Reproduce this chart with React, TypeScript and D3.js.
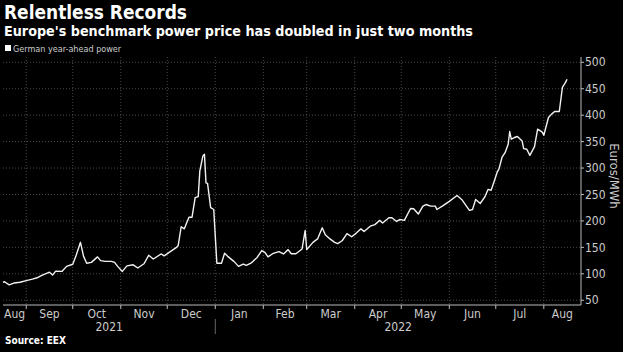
import { useEffect, useRef } from 'react'
import * as d3 from 'd3'

// German year-ahead power, Euros/MWh
const dates = [
  '2021-08-17', '2021-08-18', '2021-08-21', '2021-08-24', '2021-08-28', '2021-09-01', '2021-09-05', '2021-09-08',
  '2021-09-11', '2021-09-16', '2021-09-18', '2021-09-20', '2021-09-24', '2021-09-27', '2021-10-01', '2021-10-03',
  '2021-10-06', '2021-10-08', '2021-10-10', '2021-10-13', '2021-10-17', '2021-10-19', '2021-10-22', '2021-10-26',
  '2021-10-28', '2021-10-30', '2021-11-02', '2021-11-05', '2021-11-09', '2021-11-12', '2021-11-16', '2021-11-19',
  '2021-11-22', '2021-11-27', '2021-11-29', '2021-12-07', '2021-12-08', '2021-12-10', '2021-12-12', '2021-12-15',
  '2021-12-17', '2021-12-19', '2021-12-21', '2021-12-22', '2021-12-24', '2021-12-25', '2021-12-26', '2021-12-27',
  '2021-12-29', '2021-12-31', '2022-01-02', '2022-01-05', '2022-01-07', '2022-01-09', '2022-01-13', '2022-01-16',
  '2022-01-19', '2022-01-21', '2022-01-24', '2022-01-28', '2022-01-31', '2022-02-02', '2022-02-04', '2022-02-07',
  '2022-02-11', '2022-02-13', '2022-02-14', '2022-02-17', '2022-02-19', '2022-02-22', '2022-02-26', '2022-02-28',
  '2022-03-01', '2022-03-05', '2022-03-08', '2022-03-11', '2022-03-13', '2022-03-16', '2022-03-19', '2022-03-21',
  '2022-03-24', '2022-03-27', '2022-03-30', '2022-04-02', '2022-04-05', '2022-04-07', '2022-04-11', '2022-04-14',
  '2022-04-17', '2022-04-19', '2022-04-23', '2022-04-25', '2022-04-28', '2022-04-30', '2022-05-03', '2022-05-07',
  '2022-05-09', '2022-05-12', '2022-05-15', '2022-05-17', '2022-05-20', '2022-05-23', '2022-05-24', '2022-05-28',
  '2022-06-01', '2022-06-06', '2022-06-09', '2022-06-14', '2022-06-16', '2022-06-18', '2022-06-21', '2022-06-24',
  '2022-06-26', '2022-06-28', '2022-06-30', '2022-07-02', '2022-07-03', '2022-07-05', '2022-07-07', '2022-07-09',
  '2022-07-10', '2022-07-11', '2022-07-13', '2022-07-15', '2022-07-18', '2022-07-19', '2022-07-21', '2022-07-23',
  '2022-07-26', '2022-07-28', '2022-07-31', '2022-08-01', '2022-08-04', '2022-08-06', '2022-08-08', '2022-08-11',
  '2022-08-13', '2022-08-15', '2022-08-16'
]

const prices = [
  84, 85, 79, 82.5, 84, 87, 90, 92.5,
  97, 103, 97.6, 105, 104.5, 114, 118, 133,
  159.5, 133, 120, 121.6, 132, 125, 123.5, 123.5,
  121.6, 114, 104.5, 115, 117, 111, 119, 135,
  128, 137.5, 134, 150, 153, 189, 185, 207,
  207, 244, 246, 294, 323, 326, 272, 271,
  225, 221.6, 120, 120, 139, 133, 123.5, 114,
  118.5, 116, 120, 131, 144, 140.5, 132, 138,
  142, 139, 137.5, 145.7, 138, 138, 147, 182,
  145.7, 159.5, 166, 187, 174, 166, 159.5, 157,
  163, 176, 170, 177, 185, 180, 190, 193,
  201, 196, 206, 206, 199, 202.6, 201, 223.5,
  223, 213, 228, 231, 228, 228, 221.6, 229,
  237, 248, 240.6, 220, 221.6, 240.6, 233, 245.7,
  259.6, 258, 275, 293, 297.5, 320, 329, 345,
  369, 354.5, 357.7, 359.6, 351, 336.8, 335.5, 324,
  340.6, 373.5, 368, 362, 395.6, 402, 407, 407,
  452.6, 462, 468
]

const yTicks = [50, 100, 150, 200, 250, 300, 350, 400, 450, 500]
const monthNames = ['Aug', 'Sep', 'Oct', 'Nov', 'Dec', 'Jan', 'Feb', 'Mar', 'Apr', 'May', 'Jun', 'Jul', 'Aug']
const years = ['2021', '2022']

const WIDTH = 623
const HEIGHT = 352
const FONT = '"DejaVu Sans Condensed", "Liberation Sans Narrow", "DejaVu Sans", sans-serif'

export default function App() {
  const svgRef = useRef<SVGSVGElement>(null)

  useEffect(() => {
    if (!svgRef.current) return
    const svg = d3.select(svgRef.current)
    svg.selectAll('*').remove()

    const parse = d3.timeParse('%Y-%m-%d')
    const data = dates.map((d, i) => ({ date: parse(d) as Date, value: prices[i] }))

    const left = 3
    const right = 581
    const top = 57
    const bottom = 305

    const start = new Date(2021, 7, 17)
    const end = new Date(2022, 7, 25)
    const x = d3.scaleTime().domain([start, end]).range([left, right])
    const y = d3.scaleLinear().domain([41, 510]).range([bottom, top])

    svg.append('rect').attr('width', WIDTH).attr('height', HEIGHT).attr('fill', '#000')

    // titles (squeezed to the reference's condensed face)
    svg.append('text')
      .attr('x', 4).attr('y', 19)
      .attr('textLength', 183).attr('lengthAdjust', 'spacingAndGlyphs')
      .style('font-family', FONT).style('font-size', '20px').style('font-weight', 'bold')
      .attr('fill', '#fff')
      .text('Relentless Records')
    svg.append('text')
      .attr('x', 4).attr('y', 36)
      .attr('textLength', 469).attr('lengthAdjust', 'spacingAndGlyphs')
      .style('font-family', FONT).style('font-size', '14.5px').style('font-weight', 'bold')
      .attr('fill', '#fff')
      .text("Europe's benchmark power price has doubled in just two months")

    // legend
    svg.append('rect').attr('x', 5).attr('y', 45).attr('width', 6).attr('height', 6).attr('fill', '#fff')
    svg.append('text')
      .attr('x', 13).attr('y', 51.5)
      .style('font-family', FONT).style('font-size', '9px')
      .attr('fill', '#ccc')
      .text('German year-ahead power')

    // grid
    const monthStarts = d3.timeMonth.range(d3.timeMonth.ceil(start), end)
    svg.append('g')
      .selectAll('line')
      .data(yTicks)
      .join('line')
      .attr('x1', left).attr('x2', right)
      .attr('y1', d => y(d)).attr('y2', d => y(d))
      .attr('stroke', '#4a4a4a').attr('stroke-dasharray', '1,2')
    svg.append('g')
      .selectAll('line')
      .data(monthStarts)
      .join('line')
      .attr('x1', d => x(d)).attr('x2', d => x(d))
      .attr('y1', top).attr('y2', bottom)
      .attr('stroke', '#4a4a4a').attr('stroke-dasharray', '1,2')

    // right axis
    svg.append('line')
      .attr('x1', right).attr('x2', right).attr('y1', top).attr('y2', bottom)
      .attr('stroke', '#bbb')
    const yAxis = svg.append('g')
    yAxis.selectAll('line')
      .data(yTicks)
      .join('line')
      .attr('x1', right).attr('x2', right + 3)
      .attr('y1', d => y(d)).attr('y2', d => y(d))
      .attr('stroke', '#bbb')
    yAxis.selectAll('text')
      .data(yTicks)
      .join('text')
      .attr('x', right + 4).attr('y', d => y(d))
      .attr('dy', '0.35em')
      .style('font-family', FONT).style('font-size', '12px')
      .attr('fill', '#ccc')
      .text(d => d)
    svg.append('text')
      .attr('transform', `translate(610, ${(top + bottom) / 2 - 5}) rotate(90)`)
      .attr('text-anchor', 'middle')
      .style('font-family', FONT).style('font-size', '13px')
      .attr('fill', '#ccc')
      .text('Euros/MWh')

    // bottom axis
    svg.append('line')
      .attr('x1', left).attr('x2', right).attr('y1', bottom).attr('y2', bottom)
      .attr('stroke', '#bbb')
    svg.append('g')
      .selectAll('line')
      .data(monthStarts)
      .join('line')
      .attr('x1', d => x(d)).attr('x2', d => x(d))
      .attr('y1', bottom).attr('y2', bottom + 4)
      .attr('stroke', '#bbb')

    const months = d3.timeMonth.range(d3.timeMonth.floor(start), end)
    svg.append('g')
      .selectAll('text')
      .data(months)
      .join('text')
      .attr('x', d => {
        const a = Math.max(x(d), left)
        const b = Math.min(x(d3.timeMonth.offset(d, 1)), right)
        return (a + b) / 2
      })
      .attr('y', 318)
      .attr('text-anchor', 'middle')
      .style('font-family', FONT).style('font-size', '12px')
      .attr('fill', '#ccc')
      .text((d, i) => monthNames[i])

    const yearStart = x(new Date(2022, 0, 1))
    svg.append('g')
      .selectAll('text')
      .data(years)
      .join('text')
      .attr('x', (d, i) => (i === 0 ? (left + yearStart) / 2 : (yearStart + right) / 2))
      .attr('y', 331)
      .attr('text-anchor', 'middle')
      .style('font-family', FONT).style('font-size', '12px')
      .attr('fill', '#ccc')
      .text(d => d)
    svg.append('line')
      .attr('x1', yearStart).attr('x2', yearStart).attr('y1', 319).attr('y2', 334)
      .attr('stroke', '#666')

    // price line
    const line = d3.line<{ date: Date; value: number }>()
      .x(d => x(d.date))
      .y(d => y(d.value))
    svg.append('path')
      .datum(data)
      .attr('fill', 'none')
      .attr('stroke', '#f2f2f2')
      .attr('stroke-width', 1.4)
      .attr('stroke-linejoin', 'round')
      .attr('d', line)

    // source
    svg.append('text')
      .attr('x', 5).attr('y', 344)
      .style('font-family', FONT).style('font-size', '10px').style('font-weight', 'bold')
      .attr('fill', '#fff')
      .text('Source: EEX')
  }, [])

  return (
    <svg
      ref={svgRef}
      width={WIDTH}
      height={HEIGHT}
      style={{ position: 'absolute', left: 0, top: 0, display: 'block' }}
    />
  )
}
